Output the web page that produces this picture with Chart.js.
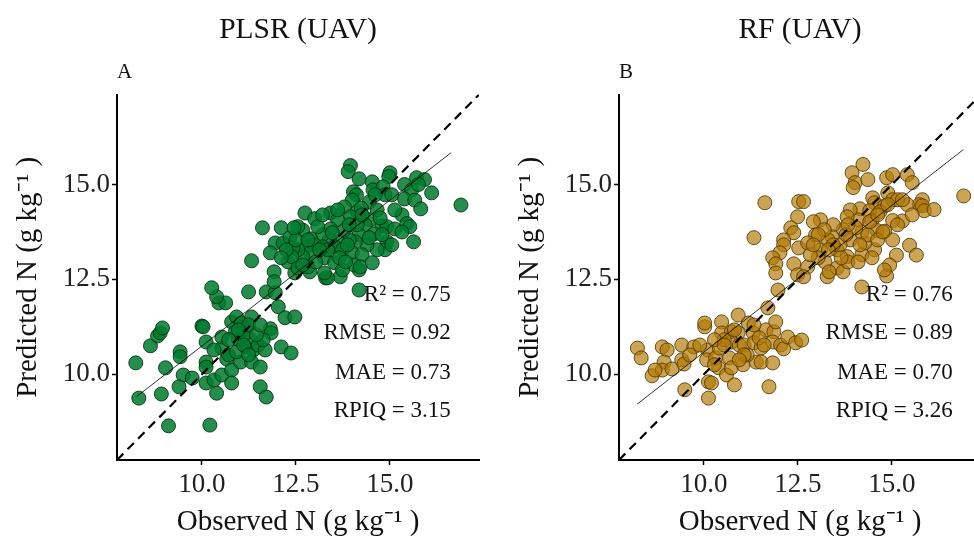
<!DOCTYPE html>
<html>
<head>
<meta charset="utf-8">
<script src="https://cdn.jsdelivr.net/npm/chart.js@4.4.1/dist/chart.umd.min.js"></script>
<style>
  html, body { margin: 0; padding: 0; background: #fff; width: 974px; height: 538px; overflow: hidden; }
  .panel { position: absolute; top: 0; }
  #chartA { left: 0; }
  #chartB { left: 502px; }
</style>
</head>
<body>
<canvas id="chartA" class="panel" width="487" height="538"></canvas>
<canvas id="chartB" class="panel" width="487" height="538"></canvas>
<script>
/* ===== Data ===== */
const axisMin = 7.74;
const axisMax = 17.37;
const axisTicks = [10, 12.5, 15];

const plsrObs = [
  8.24, 8.32, 8.63, 8.82, 8.89, 8.95, 9.03, 8.92, 9.11, 9.42, 9.42, 9.50, 9.39, 9.74,
  10.00, 10.03, 10.11, 10.11, 10.11, 10.11, 10.39, 10.21, 10.32, 10.53, 10.53, 10.53,
  10.66, 10.71, 10.79, 10.79, 10.79, 10.92, 11.05, 11.18, 11.32, 10.89, 10.97, 11.03,
  11.16, 11.29, 11.37, 11.32, 11.55, 11.50, 11.68, 11.82, 11.84, 11.55, 11.71, 12.11,
  12.37, 12.03, 12.21, 12.47, 10.45, 10.63, 10.39, 10.26, 11.24, 11.71, 11.95, 11.11,
  11.24, 11.63, 10.92, 11.61, 12.11, 11.95, 12.16, 11.82, 11.32, 11.92, 11.92, 12.47,
  12.87, 13.29, 13.68, 14.18, 14.18,
  13.95, 13.89, 14.18, 14.53, 14.55, 15.00, 14.97, 14.82, 14.87, 15.05, 15.39, 15.71,
  15.92, 15.58, 15.76, 16.11, 15.39, 15.66, 15.82, 16.89, 14.03, 14.11, 14.00, 13.79,
  13.42, 12.74, 13.00, 14.45, 14.66, 14.13, 13.95, 14.47, 14.34, 13.61, 13.42, 14.79,
  14.92, 15.13, 15.32, 15.45, 15.53, 15.63, 14.58, 14.92, 14.87, 14.66, 14.39, 14.18,
  14.08, 13.92, 13.79, 13.61, 13.39, 13.21, 12.89, 12.68, 12.55, 12.74, 13.00, 13.21,
  13.53, 13.74, 14.00, 14.26, 14.05, 14.21, 14.53, 13.26, 13.53, 13.74, 13.34, 13.26,
  12.89, 12.68, 12.82, 12.55, 13.03, 12.34, 12.42, 12.29, 12.50, 12.39, 13.08, 13.87,
  14.74, 14.24, 13.66, 13.34, 12.24,
  12.82, 13.13, 13.47, 13.82, 14.13, 14.45, 14.79, 15.05, 12.55, 13.92, 14.26, 14.61,
  15.13, 15.32, 13.61, 13.21, 12.45, 12.11, 12.68,
  10.97, 11.11, 11.45, 10.71, 11.24, 11.55, 10.32
];
const plsrPred = [
  10.30, 9.37, 10.75, 11.01, 11.09, 11.22, 10.17, 9.48, 8.64, 10.59, 10.46, 9.98, 9.67, 9.90,
  11.27, 11.25, 10.85, 10.32, 10.19, 9.77, 9.50, 8.66, 9.85, 9.98, 10.69, 10.98,
  10.40, 10.51, 10.11, 9.77, 11.38, 11.51, 11.35, 11.17, 11.51, 11.12, 10.91, 10.32,
  10.72, 10.91, 10.64, 10.32, 10.19, 10.77, 10.64, 11.20, 11.09, 9.67, 9.40, 10.72,
  10.56, 11.78, 11.49, 11.51, 11.88, 11.88, 12.04, 12.28, 12.17, 12.17, 12.15, 11.04,
  11.30, 10.91, 10.59, 13.86, 13.86, 13.46, 13.46, 13.20, 12.99, 12.70, 12.44, 12.67,
  12.70, 12.54, 12.57, 12.22, 12.75,
  15.50, 15.34, 15.15, 15.07, 14.86, 15.31, 15.21, 14.94, 14.73, 14.73, 15.00, 15.18,
  15.13, 14.86, 15.00, 14.78, 14.62, 14.59, 14.36, 14.46, 14.81, 14.73, 14.59, 14.41,
  14.25, 14.25, 14.10, 14.54, 14.33, 14.28, 14.15, 14.07, 13.94, 14.07, 13.83, 13.91,
  13.89, 13.83, 14.20, 13.97, 13.89, 13.49, 13.70, 13.49, 13.28, 13.28, 13.41, 13.68,
  13.49, 13.54, 13.80, 13.49, 13.54, 13.68, 13.57, 13.80, 13.89, 13.33, 13.41, 13.36,
  13.36, 13.28, 13.20, 13.15, 12.88, 12.83, 12.94, 13.07, 12.94, 12.75, 12.54, 12.67,
  13.20, 13.10, 12.83, 13.28, 12.96, 13.60, 13.33, 12.96, 13.54, 13.10, 13.89, 13.41,
  14.12, 14.38, 13.07, 13.28, 13.28,
  13.54, 13.28, 13.73, 12.96, 13.94, 13.60, 13.68, 13.41, 12.80, 13.94, 14.20, 14.73,
  14.33, 13.75, 14.33, 14.20, 13.86, 13.07, 12.88,
  11.17, 10.77, 11.04, 10.91, 10.51, 11.30, 10.64
];

const rfObs = [
  8.23, 8.33, 8.62, 8.89, 9.02, 8.94, 8.89, 8.70, 9.15, 9.41, 9.41, 9.47, 9.73, 9.49,
  10.02, 10.02, 10.10, 10.07, 10.31, 10.12, 10.20, 10.12, 10.47, 10.47, 10.41, 10.39,
  10.60, 10.81, 10.91, 10.73, 10.91, 10.73, 10.68, 10.73, 11.04, 10.94, 11.07, 11.18,
  11.31, 11.33, 11.52, 11.39, 11.52, 11.83, 11.65, 11.86, 11.91, 11.70, 11.73, 11.83,
  12.04, 12.12, 12.23, 12.44, 11.97, 12.60, 10.54, 11.15, 11.47, 10.28, 9.89, 9.62,
  11.62, 11.33, 12.52, 12.49, 12.31, 12.39, 12.12, 12.12, 12.02, 11.83, 11.91, 11.91,
  12.39, 12.52, 12.49,
  14.23, 13.94, 14.02, 13.97, 14.86, 15.02, 15.41, 15.54, 14.89, 14.49, 14.54, 14.81,
  15.02, 15.81, 15.73, 15.81, 15.86, 16.12, 15.41, 15.28, 15.54, 16.91, 14.15, 14.41,
  14.68, 14.47, 15.02, 14.60, 14.81, 15.02, 15.12, 15.47, 15.65, 14.94, 14.86, 14.54,
  14.28, 14.20, 14.10, 13.89, 13.81, 13.70, 13.44, 13.41, 13.10, 12.91, 12.65, 12.97,
  12.76, 13.10, 13.54, 13.89, 13.81, 14.20, 14.47, 13.22, 13.54, 13.70, 13.28, 12.76,
  12.65, 14.20, 14.80, 13.33, 13.30, 13.62, 14.04, 14.36, 14.62, 15.15, 13.04, 12.83,
  13.83, 13.20,
  13.04, 13.44, 13.78, 14.15, 14.41, 14.76, 14.10, 13.65, 13.31, 15.15, 14.89, 14.36,
  14.62, 15.28, 12.91, 13.83,
  10.54, 10.81, 11.07, 11.33, 11.60, 10.28, 10.94
];
const rfPred = [
  10.69, 10.43, 9.96, 10.72, 10.64, 10.32, 10.11, 10.11, 10.14, 10.77, 10.38, 10.27, 10.72, 9.59,
  11.25, 11.35, 10.64, 10.38, 10.43, 9.80, 9.77, 9.37, 11.38, 11.09, 10.69, 10.17,
  9.98, 9.72, 11.56, 11.12, 11.09, 10.85, 10.43, 10.17, 10.25, 10.77, 10.77, 11.35,
  11.09, 10.83, 10.69, 10.32, 10.32, 10.30, 11.17, 11.12, 11.38, 11.75, 9.67, 10.85,
  10.77, 10.67, 10.98, 10.83, 12.22, 10.90, 10.91, 10.51, 10.96, 10.91, 10.77, 10.51,
  14.52, 13.60, 14.55, 14.15, 13.86, 13.73, 13.54, 13.41, 13.20, 13.07, 12.91, 12.67,
  12.91, 13.33, 12.62,
  15.53, 15.31, 15.05, 14.92, 15.18, 15.26, 15.26, 15.05, 14.78, 14.65, 14.52, 14.44,
  14.60, 14.60, 14.47, 14.44, 14.31, 14.34, 14.47, 14.04, 14.20, 14.70, 14.36, 14.31,
  14.28, 14.05, 14.05, 13.79, 13.77, 13.54, 13.14, 13.40, 13.14, 12.88, 12.59, 13.28,
  13.46, 13.75, 14.07, 14.33, 14.15, 13.81, 13.94, 13.62, 14.07, 14.02, 14.55, 13.67,
  13.46, 13.28, 13.28, 13.54, 13.10, 13.15, 13.07, 12.96, 12.80, 12.70, 12.57, 12.83,
  12.57, 12.30, 12.75, 12.70, 13.54, 13.41, 13.86, 13.67, 13.54, 13.94, 13.07, 13.15,
  12.96, 13.81,
  13.68, 13.41, 13.68, 13.41, 14.02, 13.75, 12.96, 13.07, 13.28, 14.60, 14.47, 15.13,
  14.20, 14.60, 13.41, 13.94,
  10.77, 11.17, 10.51, 11.30, 10.77, 10.25, 10.38
];

// fitted regression line end points (observed, predicted)
const plsrFitX = [8.26, 16.63];
const plsrFitY = [9.41, 15.84];
const rfFitX = [8.22, 16.9];
const rfFitY = [9.21, 15.92];

const plsrStats = ['R\u00B2 = 0.75', 'RMSE = 0.92', 'MAE = 0.73', 'RPIQ = 3.15'];
const rfStats = ['R\u00B2 = 0.76', 'RMSE = 0.89', 'MAE = 0.70', 'RPIQ = 3.26'];
const statX = 16.62;
const statY = [12.09, 11.08, 10.03, 9.03];

/* ===== Global Config ===== */
const serif = "'Liberation Serif', 'Times New Roman', serif";
Chart.defaults.font.family = serif;
Chart.defaults.color = '#111';
Chart.defaults.animation = false;

/* ===== Stats text plugin ===== */
const statsText = {
  id: 'statsText',
  afterDatasetsDraw(chart, args, opts) {
    const { ctx, scales: { x, y } } = chart;
    ctx.save();
    ctx.font = `23px ${serif}`;
    ctx.fillStyle = '#111';
    ctx.textAlign = 'right';
    ctx.textBaseline = 'middle';
    opts.lines.forEach((t, i) => {
      ctx.fillText(t, x.getPixelForValue(statX), y.getPixelForValue(statY[i]));
    });
    ctx.restore();
  }
};

function axisOptions(label, isX) {
  return {
    type: 'linear',
    min: axisMin,
    max: axisMax,
    afterBuildTicks: (scale) => { scale.ticks = axisTicks.map(v => ({ value: v })); },
    afterFit: (scale) => {
      if (isX) scale.height = 78; else scale.width = 117;
    },
    ticks: {
      font: { size: 27 },
      color: '#222',
      padding: isX ? 4 : 2,
      callback: (v) => v.toFixed(1)
    },
    grid: {
      display: true,
      drawOnChartArea: false,
      drawTicks: true,
      tickLength: 5,
      tickWidth: 1.5,
      tickColor: '#000'
    },
    border: { display: true, color: '#000', width: 2 },
    title: {
      display: true,
      text: label,
      font: { size: 29, lineHeight: 1 },
      color: '#111',
      padding: isX ? { top: 0, bottom: 1 } : { top: 14, bottom: 0 }
    }
  };
}

/* ===== Panel ===== */
function initPanel(id, title, letter, obs, pred, fitX, fitY, fill, edge, stats) {
  const ctx = document.getElementById(id);
  if (!ctx) return;

  new Chart(ctx, {
    type: 'scatter',
    data: {
      datasets: [
        {
          type: 'line',
          data: [{ x: axisMin, y: axisMin }, { x: axisMax, y: axisMax }],
          borderColor: '#000',
          borderWidth: 2.2,
          borderDash: [9, 6],
          pointRadius: 0,
          order: 0
        },
        {
          type: 'line',
          data: fitX.map((v, i) => ({ x: v, y: fitY[i] })),
          borderColor: '#000',
          borderWidth: 0.8,
          pointRadius: 0,
          order: 1
        },
        {
          data: obs.map((v, i) => ({ x: v, y: pred[i] })),
          backgroundColor: fill,
          borderColor: edge,
          borderWidth: 1,
          pointRadius: 7,
          order: 2
        }
      ]
    },
    options: {
      responsive: false,
      layout: { padding: { left: 0, right: 4, top: 0, bottom: 0 } },
      scales: {
        x: axisOptions('Observed N (g kg\u207B\u00B9 )', true),
        y: axisOptions('Predicted N (g kg\u207B\u00B9 )', false)
      },
      plugins: {
        legend: { display: false },
        tooltip: { enabled: false },
        title: {
          display: true,
          text: title,
          fullSize: false,
          color: '#111',
          font: { size: 29.5, weight: 'normal' },
          padding: { top: 13, bottom: 8 }
        },
        subtitle: {
          display: true,
          text: letter,
          align: 'start',
          fullSize: false,
          color: '#111',
          font: { size: 21, weight: 'normal' },
          padding: { top: 3, bottom: 10 }
        },
        statsText: { lines: stats }
      }
    },
    plugins: [statsText]
  });
}

/* ===== Init ===== */
initPanel('chartA', 'PLSR (UAV)', 'A', plsrObs, plsrPred, plsrFitX, plsrFitY,
  'rgba(0, 125, 48, 0.86)', 'rgba(0, 45, 10, 0.85)', plsrStats);
initPanel('chartB', 'RF (UAV)', 'B', rfObs, rfPred, rfFitX, rfFitY,
  'rgba(178, 122, 5, 0.68)', 'rgba(80, 55, 0, 0.85)', rfStats);
</script>
</body>
</html>
